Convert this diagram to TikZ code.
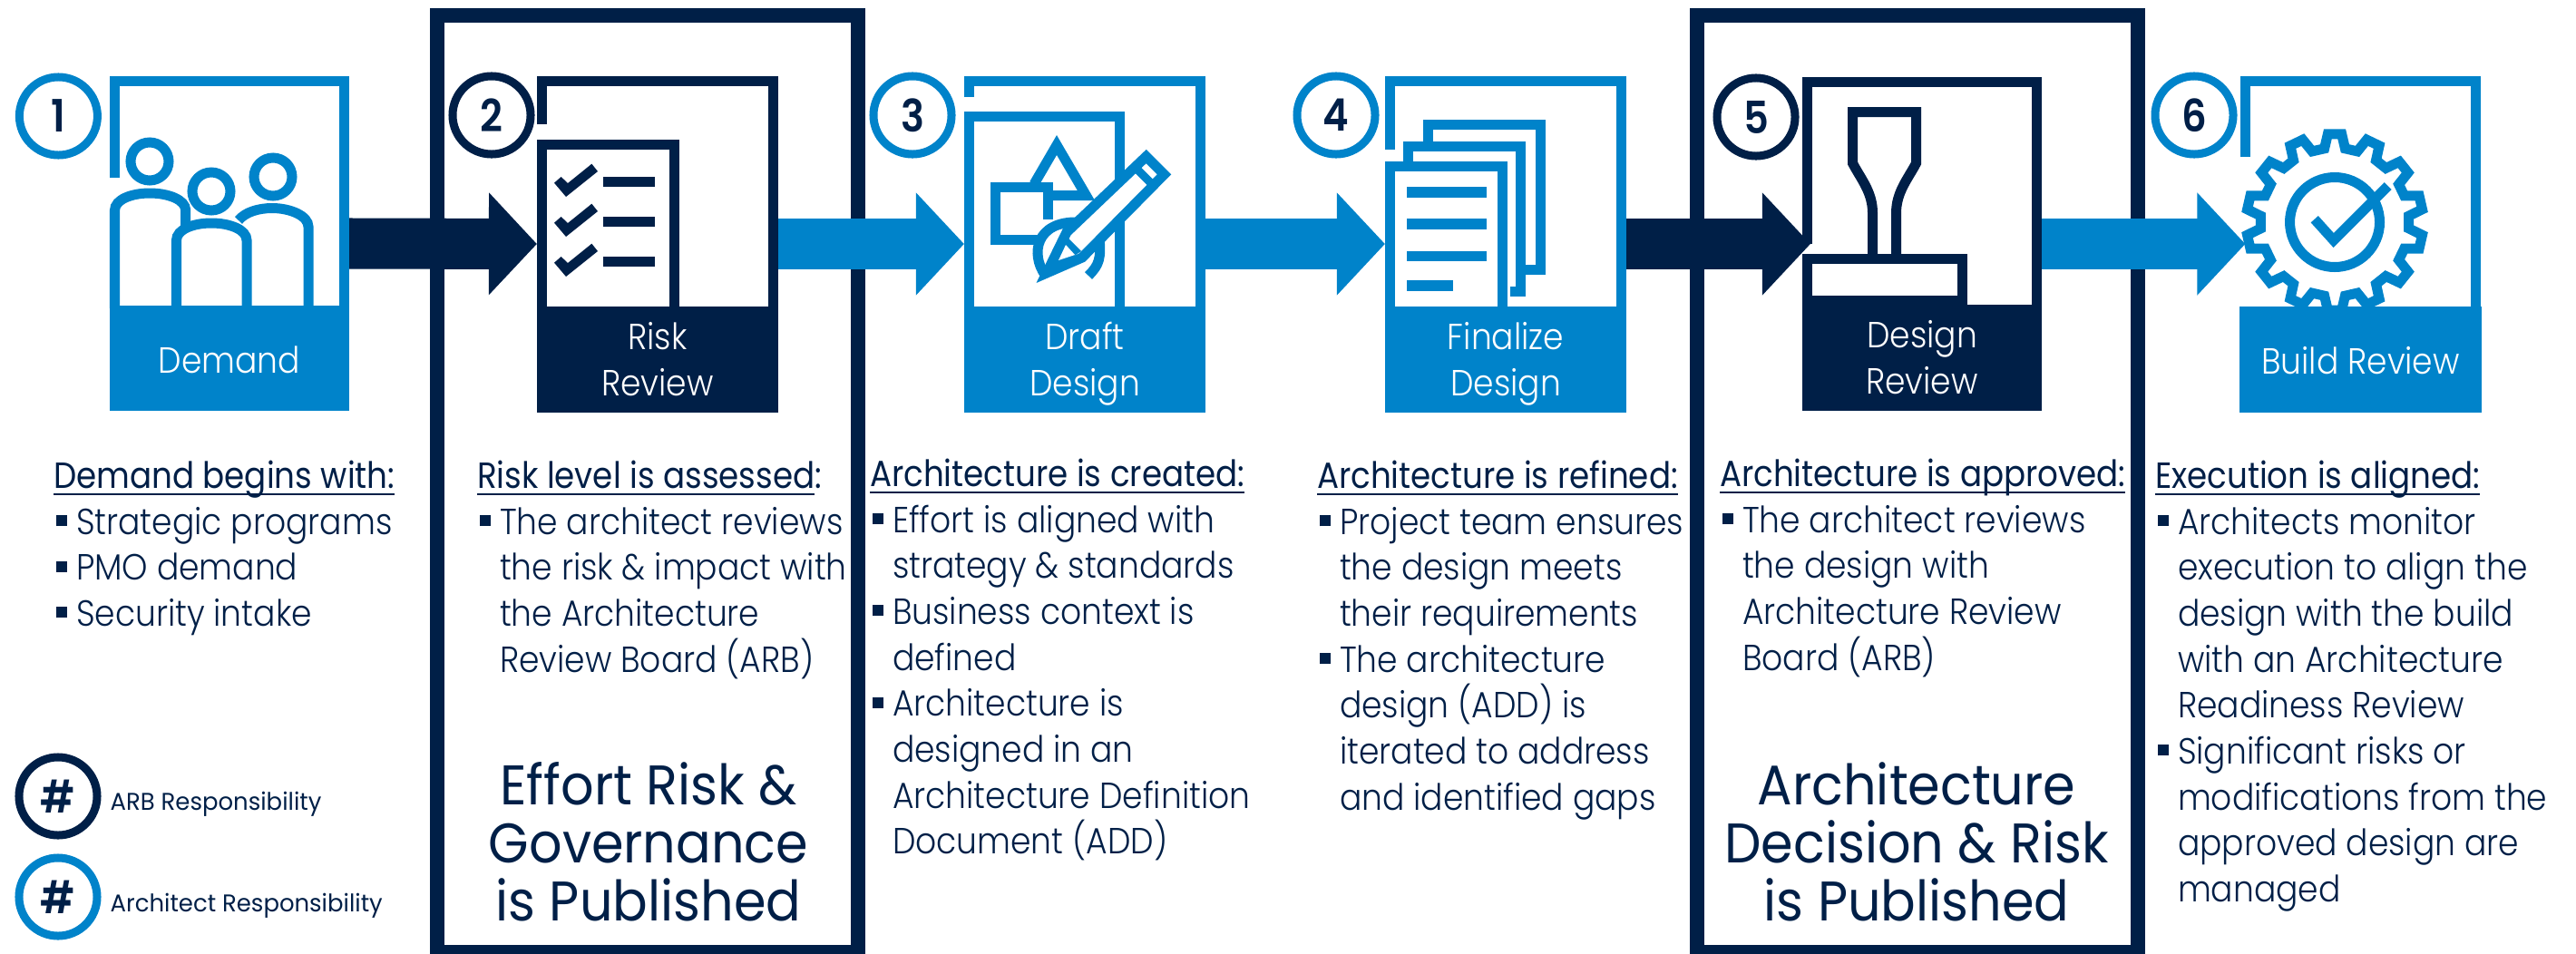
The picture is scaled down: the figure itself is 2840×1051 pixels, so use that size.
\documentclass[tikz,border=0pt]{standalone}
\usepackage{fontspec}
\usetikzlibrary{arrows.meta}
\setmainfont{Poppins Light}[FakeStretch=0.9]
\newfontfamily\regfont{Poppins}[FakeStretch=0.89]
\newfontfamily\pubfont{Poppins}[FakeStretch=0.93]
\newfontfamily\legfont{Poppins}[FakeStretch=0.97]
\newfontfamily\numfont{Poppins SemiBold}[FakeStretch=0.88]
\definecolor{archblue}{HTML}{0083CA}
\definecolor{arbnavy}{HTML}{001F47}
\newcommand{\hdr}[1]{\setbox0\hbox{#1}\rlap{\rule[-.07cm]{\wd0}{.014cm}}\box0}
\newcommand{\itm}{\hspace*{.03cm}\makebox[.22cm][l]{\rule[.09cm]{.12cm}{.12cm}}}
\newcommand{\ind}{\hspace*{.25cm}}
\newcommand{\bandtwo}[2]{\rule{0pt}{.4cm}#1\\#2\rule[-.12cm]{0pt}{.12cm}}
\tikzset{
	framebox/.style={minimum width=2.66cm, minimum height=3.72cm, inner sep=0pt, outer sep=0pt},
	band/.style={anchor=south, minimum width=2.66cm, minimum height=1.17cm, inner sep=0pt, outer sep=0pt, align=center, text=white, font=\fontsize{11.4pt}{14.5pt}\selectfont},
	stepnum/.style={circle, line width=.09cm, minimum size=.86cm, inner sep=0pt, text=arbnavy, font=\numfont\fontsize{14pt}{16pt}\selectfont},
	column/.style={anchor=north west, inner sep=0pt, outer sep=0pt, align=left, text=arbnavy, font=\fontsize{11.4pt}{14.4pt}\selectfont},
	published/.style={anchor=north, inner sep=0pt, align=center, text=arbnavy, font=\pubfont\fontsize{17.5pt}{18.2pt}\selectfont},
	legendtext/.style={anchor=base west, inner sep=0pt, text=arbnavy, font=\legfont\fontsize{7.6pt}{9pt}\selectfont},
	icon/.style={line width=.11cm},
	flow/.style={line width=.56cm, -{Triangle[length=.53cm, width=1.1cm]}},
}
\begin{document}
\begin{tikzpicture}[x=.01cm, y=-.01cm]
	\clip (0,0) rectangle (2840,1051);
	
	% Draw the two outer frames
	\draw[arbnavy, line width=.16cm] (482,17) rectangle (946,1050);
	\draw[arbnavy, line width=.16cm] (1871,17) rectangle (2357,1050);
	
	% Anchors for the flow arrows
	\node[framebox, minimum width=2.64cm, minimum height=3.69cm] (frame1) at (253,268.5) {};
	\node[framebox] (frame2) at (725,269) {};
	\node[framebox] (frame3) at (1196,269) {};
	\node[framebox] (frame4) at (1660,269) {};
	\node[framebox, minimum width=2.64cm, minimum height=3.68cm] (frame5) at (2119,269) {};
	\node[framebox] (frame6) at (2602.5,269) {};
	
	% Step 1: people
	\draw[archblue, icon] (126.5,196) -- (126.5,89.5) -- (379.5,89.5) -- (379.5,340);
	\draw[archblue, icon] (165,178) circle (21);
	\draw[archblue, icon] (233,211) circle (21);
	\draw[archblue, icon] (301,195) circle (21);
	\draw[archblue, icon] (126.5,340) -- (126.5,232) .. controls (126.5,220) and (145,213) .. (165,213) .. controls (185,213) and (204.7,220) .. (204.7,232) -- (204.7,252);
	\draw[archblue, icon] (263,243) .. controls (270,234) and (285,229.5) .. (300,229.5) .. controls (320,229.5) and (340,238) .. (340,250) -- (340,340);
	\draw[archblue, icon] (194.5,340) -- (194.5,265) .. controls (194.5,253) and (213,246) .. (233,246) .. controls (253,246) and (272,253) .. (272,265) -- (272,340);
	
	% Step 2: checklist
	\draw[arbnavy, icon] (597.5,137) -- (597.5,89) -- (852.5,89) -- (852.5,340);
	\draw[arbnavy, icon] (597.5,340) -- (597.5,159.5) -- (743.5,159.5) -- (743.5,340);
	\foreach \dy in {0,44,88} {
		\fill[arbnavy] (652.4,180.7+\dy) -- (659,189+\dy) -- (624,217+\dy) -- (611,201.7+\dy) -- (618.6,195+\dy) -- (626,202+\dy) -- cycle;
		\fill[arbnavy] (665,195+\dy) rectangle (722,206+\dy);
	}
	
	% Step 3: sketch sheet
	\draw[archblue, icon] (1068.5,107) -- (1068.5,89) -- (1323.5,89) -- (1323.5,340);
	\draw[archblue, icon] (1068.5,340) -- (1068.5,128.5) -- (1234.5,128.5) -- (1234.5,340);
	\draw[archblue, icon, miter limit=10] (1140,203) -- (1165,160) -- (1197.4,215.5) -- (1155,215.5);
	\draw[archblue, icon] (1148,264.5) -- (1097.5,264.5) -- (1097.5,206.5) -- (1155.5,206.5) -- (1155.5,242);
	\draw[archblue, icon] (1152,303) .. controls (1136,280) and (1142,244) .. (1188,245);
	\draw[archblue, icon] (1212,262) .. controls (1214,285) and (1212,292) .. (1200,304);
	\draw[archblue, icon, fill=white, miter limit=10] (1263.7,172.5) -- (1283.5,192.3) -- (1193,284) -- (1154,301) -- (1176,256) -- cycle;
	\fill[archblue] (1178,263) -- (1192,277) -- (1158,300) -- cycle;
	\fill[white] (1167,287) -- (1175,270) -- (1185,281) -- cycle;
	\draw[archblue, line width=.09cm] (1254,187) -- (1269,202);
	
	% Step 4: stacked pages
	\draw[archblue, icon] (1532.5,165) -- (1532.5,89) -- (1787.5,89) -- (1787.5,340);
	\draw[archblue, icon] (1574.5,160) -- (1574.5,137.5) -- (1698.5,137.5) -- (1698.5,297.5) -- (1682,297.5);
	\draw[archblue, icon] (1552.5,180) -- (1552.5,161.5) -- (1676.5,161.5) -- (1676.5,321.5) -- (1665,321.5);
	\draw[archblue, icon] (1532.5,340) -- (1532.5,183.5) -- (1656.5,183.5) -- (1656.5,340);
	\fill[archblue] (1551,206) rectangle (1639,218);
	\fill[archblue] (1551,241) rectangle (1639,253);
	\fill[archblue] (1551,277) rectangle (1639,288);
	\fill[archblue] (1551,309) rectangle (1602,321);
	
	% Step 5: stamp
	\draw[arbnavy, icon] (1992.5,269) -- (1992.5,90.5) -- (2245.5,90.5) -- (2245.5,340);
	\draw[arbnavy, icon] (1992.5,285.5) rectangle (2163.5,331.5);
	\draw[arbnavy, icon] (2064.5,281) -- (2064.5,235) .. controls (2064.5,212) and (2052,198) .. (2042.5,180) -- (2042.5,123.5) -- (2112.5,123.5) -- (2112.5,180) .. controls (2103,198) and (2090.5,212) .. (2090.5,235) -- (2090.5,281);
	
	% Step 6: gear with tick
	\draw[archblue, icon] (2475.5,173) -- (2475.5,89) -- (2729.5,89) -- (2729.5,340);
	\begin{scope}[shift={(2574,245)}]
		\draw[archblue, icon, line join=miter] (90-8:82)
			\foreach \a in {90,115.71,141.43,167.14,192.86,218.57,244.29,270,295.71,321.43,347.14,372.86,398.57,424.29} {
				-- (\a-8:82) -- (\a-4.5:97.5) -- (\a+4.5:97.5) -- (\a+8:82)
			} -- cycle;
		\draw[archblue, icon] (0,0) circle (49.5);
		\draw[archblue, icon] (-22.3,-3.3) -- (-1.3,20) -- (58.7,-40);
	\end{scope}
	
	% Step labels below the icons
	\node[band, fill=archblue, minimum width=2.64cm, minimum height=1.16cm] (band1) at (frame1.south) {\rule{0pt}{.33cm}Demand};
	\node[band, fill=arbnavy] (band2) at (frame2.south) {\bandtwo{Risk}{Review}};
	\node[band, fill=archblue] (band3) at (frame3.south) {\bandtwo{Draft}{Design}};
	\node[band, fill=archblue] (band4) at (frame4.south) {\bandtwo{Finalize}{Design}};
	\node[band, fill=arbnavy, minimum width=2.64cm] (band5) at (frame5.south) {\bandtwo{Design}{Review}};
	\node[band, fill=archblue] (band6) at (frame6.south) {\rule{0pt}{.33cm}Build Review};
	
	% Flow arrows
	\draw[flow, arbnavy] (frame1.east) -- (frame2.west);
	\draw[flow, archblue] (frame2.east) -- (frame3.west);
	\draw[flow, archblue] (frame3.east) -- (frame4.west);
	\draw[flow, arbnavy] (frame4.east) -- ([xshift=.09cm]frame5.west);
	\draw[flow, archblue] (frame5.east) -- ([xshift=.06cm]frame6.west);
	
	% Step numbers
	\node[stepnum, draw=archblue] (num1) at (64.4,128) {1};
	\node[stepnum, draw=arbnavy] (num2) at (542,127) {2};
	\node[stepnum, draw=archblue] (num3) at (1006,127) {3};
	\node[stepnum, draw=archblue] (num4) at (1473,127) {4};
	\node[stepnum, draw=arbnavy] (num5) at (1936,129) {5};
	\node[stepnum, draw=archblue] (num6) at (2419,127) {6};
	
	% Text columns
	\node[column] (text1) at (59,508) {\hdr{\regfont Demand begins with:}\\
		\itm Strategic programs\\
		\itm PMO demand\\
		\itm Security intake};
	\node[column] (text2) at (526,508) {\hdr{\regfont Risk level is assessed}{\regfont :}\\
		\itm The architect reviews\\
		\ind the risk \& impact with\\
		\ind the Architecture\\
		\ind Review Board (ARB)};
	\node[column] (text3) at (959,506) {\hdr{\regfont Architecture is created:}\\
		\itm Effort is aligned with\\
		\ind strategy \& standards\\
		\itm Business context is\\
		\ind defined\\
		\itm Architecture is\\
		\ind designed in an\\
		\ind Architecture Definition\\
		\ind Document (ADD)};
	\node[column] (text4) at (1452,508) {\hdr{\regfont Architecture is refined:}\\
		\itm Project team ensures\\
		\ind the design meets\\
		\ind their requirements\\
		\itm The architecture\\
		\ind design (ADD) is\\
		\ind iterated to address\\
		\ind and identified gaps};
	\node[column] (text5) at (1896,506) {\hdr{\regfont Architecture is approved:}\\
		\itm The architect reviews\\
		\ind the design with\\
		\ind Architecture Review\\
		\ind Board (ARB)};
	\node[column] (text6) at (2376,508) {\hdr{\regfont Execution is aligned:}\\
		\itm Architects monitor\\
		\ind execution to align the\\
		\ind design with the build\\
		\ind with an Architecture\\
		\ind Readiness Review\\
		\itm Significant risks or\\
		\ind modifications from the\\
		\ind approved design are\\
		\ind managed};
	
	% Published outcomes
	\node[published] (pub2) at (715,840) {Effort Risk \&\\Governance\\is Published};
	\node[published] (pub5) at (2113,840) {Architecture\\Decision \& Risk\\is Published};
	
	% Legend
	\node[stepnum, draw=arbnavy] (legend1) at (64,878) {\#};
	\node[stepnum, draw=archblue] (legend2) at (64,989) {\#};
	\node[legendtext] (legendlabel1) at (121,893) {ARB Responsibility};
	\node[legendtext] (legendlabel2) at (121,1005) {Architect Responsibility};
\end{tikzpicture}
\end{document}
